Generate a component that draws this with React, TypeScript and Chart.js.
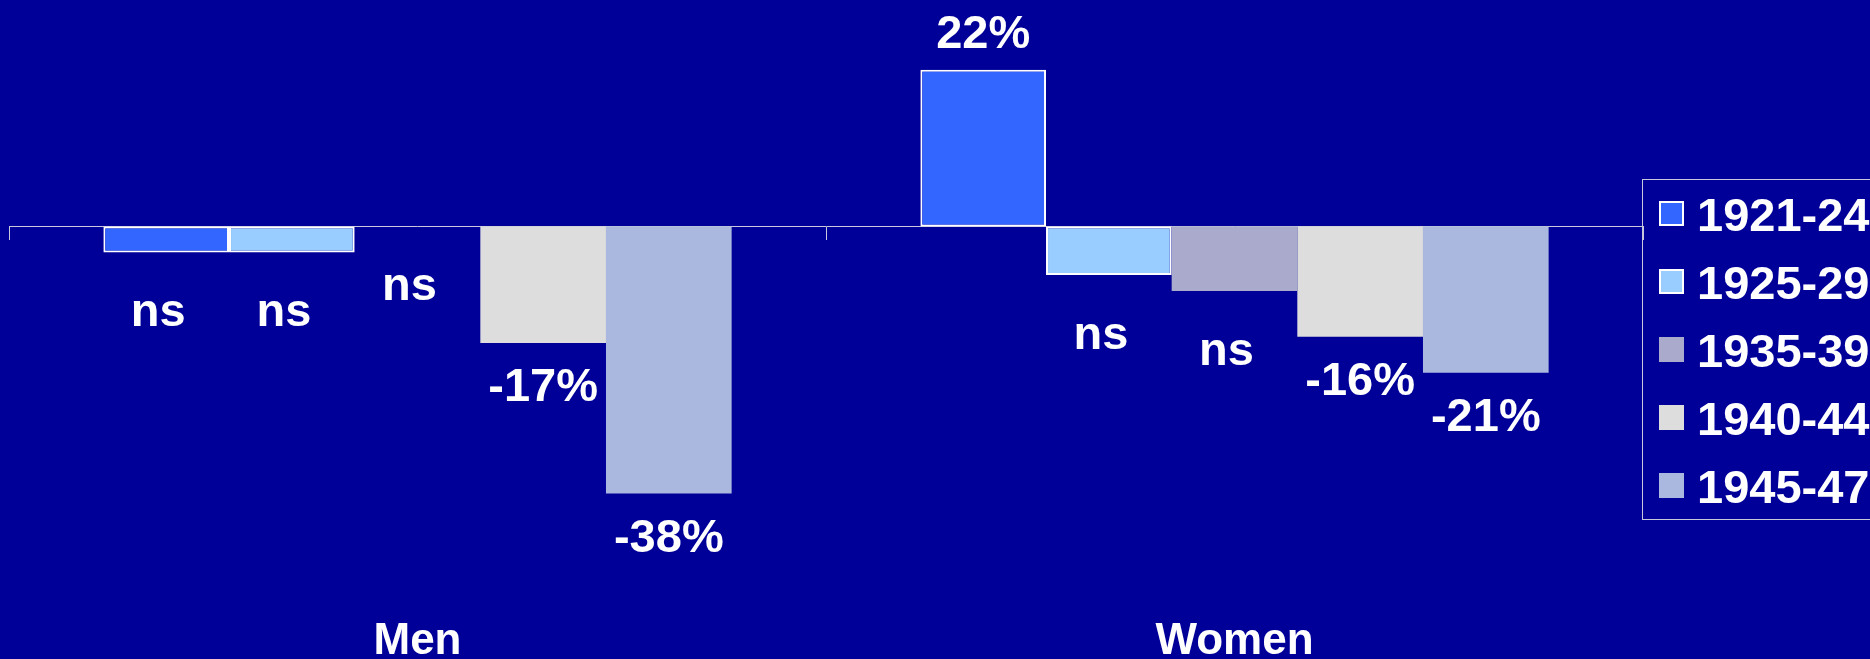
import React, { useEffect, useRef } from 'react';
import { Chart, registerables } from 'chart.js';

Chart.register(...registerables);

const categories = ['Men', 'Women'];
const seriesNames = ['1921-24', '1925-29', '1935-39', '1940-44', '1945-47'];
const values1921 = [-3.7, 22.3];
const values1925 = [-3.7, -6.9];
const values1935 = [0, -9.2];
const values1940 = [-16.6, -15.7];
const values1945 = [-38, -20.8];
const labels1921 = ['ns', '22%'];
const labels1925 = ['ns', 'ns'];
const labels1935 = ['ns', 'ns'];
const labels1940 = ['-17%', '-16%'];
const labels1945 = ['-38%', '-21%'];
const seriesColors = ['#3366FF', '#99CCFF', '#AAAACC', '#DDDDDD', '#AAB8E0'];
const seriesOutlined = [true, true, false, false, false];

const BG = '#000099';
const LINE = '#C8C8DC';
const FONT = '"Liberation Sans", Arial, sans-serif';

const valueLabelPlugin = {
  id: 'valueLabels',
  afterDatasetsDraw(chart: any) {
    const ctx = chart.ctx;
    ctx.save();
    ctx.fillStyle = '#FFFFFF';
    ctx.font = `bold 47px ${FONT}`;
    ctx.textAlign = 'center';
    ctx.textBaseline = 'alphabetic';
    chart.data.datasets.forEach((ds: any, di: number) => {
      const meta = chart.getDatasetMeta(di);
      meta.data.forEach((bar: any, i: number) => {
        const text = ds.valueLabels[i];
        const v = ds.data[i];
        let y;
        let x = bar.x;
        if (v > 0) {
          y = Math.min(bar.y, bar.base) - 22;
        } else if (text === 'ns') {
          y = Math.max(bar.y, bar.base) + 74;
          x = bar.x - 8;
        } else {
          y = Math.max(bar.y, bar.base) + 58;
        }
        ctx.fillText(text, x, y);
      });
    });
    ctx.restore();
  },
};

const boxLegendPlugin = {
  id: 'boxLegend',
  afterDraw(chart: any) {
    const ctx = chart.ctx;
    const left = chart.chartArea.right - 1;
    const top = 179;
    const bottom = 519;
    ctx.save();
    ctx.strokeStyle = LINE;
    ctx.lineWidth = 1;
    ctx.strokeRect(left + 0.5, top + 0.5, chart.width + 10 - left, bottom - top);
    ctx.font = `bold 47px ${FONT}`;
    ctx.textAlign = 'left';
    ctx.textBaseline = 'alphabetic';
    chart.data.datasets.forEach((ds: any, i: number) => {
      const sy = 201 + i * 68;
      const sx = left + 17;
      ctx.fillStyle = ds.backgroundColor;
      ctx.fillRect(sx, sy, 25, 25);
      if (seriesOutlined[i]) {
        ctx.strokeStyle = '#FFFFFF';
        ctx.lineWidth = 2;
        ctx.strokeRect(sx + 1, sy + 1, 23, 23);
      }
      ctx.fillStyle = '#FFFFFF';
      ctx.fillText(ds.label, left + 55, sy + 30);
    });
    ctx.restore();
  },
};

export default function App() {
  const canvasRef = useRef<HTMLCanvasElement | null>(null);

  useEffect(() => {
    document.body.style.margin = '0';
    document.body.style.background = BG;
    const canvas = canvasRef.current;
    if (!canvas) return;
    const seriesValues = [values1921, values1925, values1935, values1940, values1945];
    const seriesLabels = [labels1921, labels1925, labels1935, labels1940, labels1945];
    const chart = new Chart(canvas, {
      type: 'bar',
      data: {
        labels: categories,
        datasets: seriesNames.map((name, i) => ({
          label: name,
          data: seriesValues[i],
          valueLabels: seriesLabels[i],
          backgroundColor: seriesColors[i],
          borderColor: '#FFFFFF',
          borderWidth: seriesOutlined[i] ? 2 : 0,
          borderSkipped: false,
          categoryPercentage: 0.769,
          barPercentage: 1.0,
          xAxisID: 'x',
          yAxisID: 'y',
        })) as any,
      },
      options: {
        responsive: false,
        animation: false,
        devicePixelRatio: 1,
        layout: { padding: { left: 9, right: 227, top: 15, bottom: 0 } },
        plugins: {
          legend: { display: false },
          tooltip: { enabled: false },
          title: { display: false },
        },
        scales: {
          x: {
            type: 'category',
            position: 'bottom',
            offset: true,
            grid: { display: false, drawTicks: false },
            border: { display: false },
            ticks: {
              color: '#FFFFFF',
              padding: 0,
              font: { family: FONT, size: 44, weight: 'bold' },
            },
          },
          xZero: {
            type: 'category',
            position: { y: 0 } as any,
            offset: true,
            grid: {
              offset: true,
              drawOnChartArea: false,
              drawTicks: true,
              tickLength: 13,
              color: LINE,
              lineWidth: 1,
            },
            border: { display: true, color: LINE, width: 1 },
            ticks: { display: false },
          },
          y: {
            display: false,
            min: -55.3,
            max: 30.07,
          },
        },
      },
      plugins: [valueLabelPlugin, boxLegendPlugin],
    });
    return () => chart.destroy();
  }, []);

  return (
    <div style={{ width: 1870, height: 659, overflow: 'hidden', background: BG }}>
      <canvas ref={canvasRef} width={1870} height={668} style={{ display: 'block' }} />
    </div>
  );
}
